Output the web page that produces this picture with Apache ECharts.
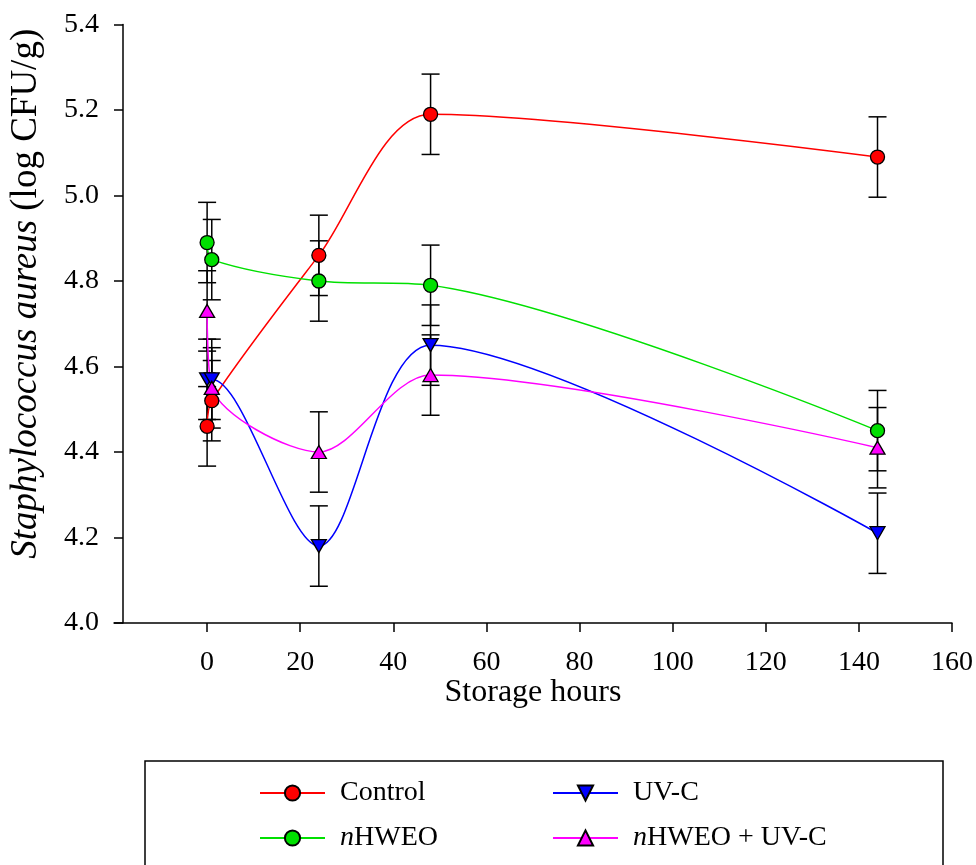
<!DOCTYPE html>
<html>
<head>
<meta charset="utf-8">
<script src="https://cdn.jsdelivr.net/npm/echarts@6/dist/echarts.min.js"></script>
<style>
  html, body { margin: 0; padding: 0; background: #fff; }
  #chart { width: 976px; height: 865px; }
</style>
</head>
<body>
<div id="chart"></div>
<script>
// ---- Data ----
const hours = [0, 1, 24, 48, 144];
const control = [4.46, 4.52, 4.86, 5.19, 5.09];
const controlErr = [0.093, 0.094, 0.094, 0.094, 0.094];
const nhweo = [4.89, 4.85, 4.80, 4.79, 4.45];
const nhweoErr = [0.094, 0.094, 0.094, 0.094, 0.094];
const uvc = [4.57, 4.57, 4.18, 4.65, 4.21];
const uvcErr = [0.094, 0.094, 0.094, 0.094, 0.094];
const combo = [4.73, 4.55, 4.40, 4.58, 4.41];
const comboErr = [0.094, 0.094, 0.094, 0.094, 0.094];
const xTicks = [0, 20, 40, 60, 80, 100, 120, 140, 160];
const seriesNames = ['Control', 'UV-C', 'nHWEO', 'nHWEO + UV-C'];

const FONT = 'Liberation Serif';
const chart = echarts.init(document.getElementById('chart'));

function pairs(vals) { return hours.map((h, i) => [h, vals[i]]); }
function triples(vals, errs) { return hours.map((h, i) => [h, vals[i], errs[i]]); }

function lineSeries(name, vals, color, symbol, size) {
  return {
    type: 'line', name: name, data: pairs(vals), smooth: 0.3,
    symbol: symbol, symbolSize: size, showAllSymbol: true, z: 3,
    lineStyle: { color: color, width: 1.5 },
    itemStyle: { color: color, borderColor: '#000', borderWidth: 1.3 },
    emphasis: { disabled: true }, animation: false
  };
}
function errSeries(vals, errs) {
  return {
    type: 'custom', data: triples(vals, errs), z: 2, animation: false,
    encode: { x: 0, y: 1 },
    renderItem: function (params, api) {
      const x = api.value(0), y = api.value(1), e = api.value(2);
      const t = api.coord([x, y + e]);
      const b = api.coord([x, y - e]);
      const w = 9;
      const st = { stroke: '#000', lineWidth: 1.5 };
      return {
        type: 'group', children: [
          { type: 'line', shape: { x1: t[0], y1: t[1], x2: b[0], y2: b[1] }, style: st },
          { type: 'line', shape: { x1: t[0] - w, y1: t[1], x2: t[0] + w, y2: t[1] }, style: st },
          { type: 'line', shape: { x1: b[0] - w, y1: b[1], x2: b[0] + w, y2: b[1] }, style: st }
        ]
      };
    }
  };
}

const legendCommon = {
  orient: 'vertical', itemWidth: 65, itemHeight: 19, itemGap: 13, padding: 0,
  selectedMode: false,
  formatter: function (n) { return n.charAt(0) === 'n' ? '{i|n}' + n.slice(1) : n; },
  textStyle: {
    fontFamily: FONT, fontSize: 28, color: '#000', lineHeight: 32, padding: [0, 0, 0, 10],
    rich: { i: { fontFamily: FONT, fontSize: 28, fontStyle: 'italic', color: '#000' } }
  }
};

chart.setOption({
  animation: false,
  backgroundColor: '#fff',
  grid: { left: 113, right: 23, top: 24.5, bottom: 242, containLabel: false },
  xAxis: {
    type: 'value', min: -20, max: 160, interval: 20,
    name: 'Storage hours', nameLocation: 'middle', nameGap: 54, nameMoveOverlap: false,
    nameTextStyle: { fontFamily: FONT, fontSize: 32, color: '#000' },
    axisLine: { show: true, onZero: false, lineStyle: { color: '#000', width: 1.5 } },
    axisTick: { show: true, inside: false, length: 9, lineStyle: { color: '#000', width: 1.5 }, customValues: xTicks },
    axisLabel: { fontFamily: FONT, fontSize: 28, color: '#000', margin: 26, customValues: xTicks },
    splitLine: { show: false }
  },
  yAxis: {
    type: 'value', min: 4.0, max: 5.4, interval: 0.2, offset: -9,
    name: '{i|Staphylococcus aureus} (log CFU/g)', nameLocation: 'middle', nameGap: 78, nameMoveOverlap: false,
    nameTextStyle: {
      fontFamily: FONT, fontSize: 37, color: '#000', padding: [0, 0, 0, 60],
      rich: { i: { fontFamily: FONT, fontSize: 37, fontStyle: 'italic', color: '#000' } }
    },
    axisLine: { show: true, onZero: false, lineStyle: { color: '#000', width: 1.5 } },
    axisTick: { show: true, inside: false, length: 9, lineStyle: { color: '#000', width: 1.5 } },
    axisLabel: { fontFamily: FONT, fontSize: 28, color: '#000', margin: 24, formatter: v => v.toFixed(1) },
    splitLine: { show: false }
  },
  legend: [
    Object.assign({}, legendCommon, { data: [seriesNames[0], seriesNames[2]], left: 259, top: 777 }),
    Object.assign({}, legendCommon, { data: [seriesNames[1], seriesNames[3]], left: 552, top: 777 })
  ],
  graphic: [
    { type: 'rect', shape: { x: 145, y: 761, width: 798, height: 200 },
      style: { fill: 'none', stroke: '#000', lineWidth: 1.5 }, silent: true }
  ],
  series: [
    errSeries(control, controlErr),
    errSeries(nhweo, nhweoErr),
    errSeries(uvc, uvcErr),
    errSeries(combo, comboErr),
    lineSeries(seriesNames[0], control, '#ff0000', 'circle', 14),
    lineSeries(seriesNames[2], nhweo, '#00e000', 'circle', 14),
    lineSeries(seriesNames[1], uvc, '#0000ff', 'path://M0,0L2,0L1,1.732Z', [15, 13]),
    lineSeries(seriesNames[3], combo, '#ff00ff', 'triangle', [15, 13])
  ]
});
</script>
</body>
</html>
